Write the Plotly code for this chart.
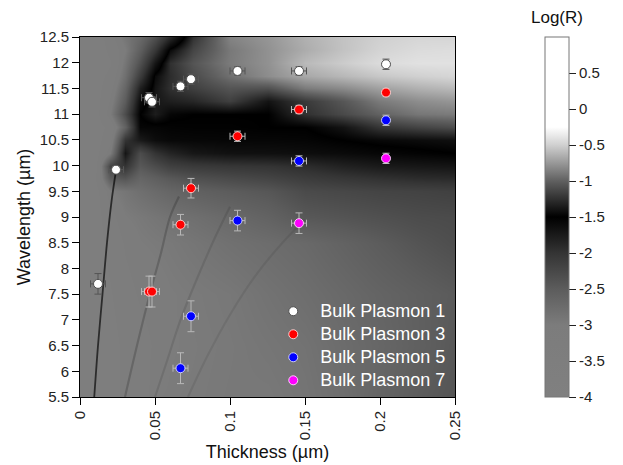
import plotly.graph_objects as go

# ---------------- data ----------------
# Measured bulk plasmon positions (thickness in µm, wavelength in µm)
bp1_x = [0.012, 0.024, 0.046, 0.048, 0.067, 0.074, 0.105, 0.146, 0.204]
bp1_y = [7.70, 9.92, 11.32, 11.24, 11.54, 11.68, 11.84, 11.84, 11.97]
bp1_ex = [0.005, 0.005, 0.005, 0.005, 0.005, 0.005, 0.005, 0.005, 0.0]
bp1_ey = [0.2, 0.06, 0.1, 0.1, 0.1, 0.1, 0.08, 0.08, 0.1]

bp3_x = [0.046, 0.048, 0.067, 0.074, 0.105, 0.146, 0.204]
bp3_y = [7.55, 7.55, 8.85, 9.56, 10.57, 11.09, 11.42]
bp3_ex = [0.005, 0.005, 0.005, 0.005, 0.005, 0.005, 0.0]
bp3_ey = [0.3, 0.3, 0.2, 0.19, 0.1, 0.08, 0.08]

bp5_x = [0.067, 0.074, 0.105, 0.146, 0.204]
bp5_y = [6.06, 7.07, 8.93, 10.09, 10.88]
bp5_ex = [0.005, 0.005, 0.005, 0.005, 0.0]
bp5_ey = [0.3, 0.3, 0.2, 0.1, 0.1]

bp7_x = [0.146, 0.204]
bp7_y = [8.88, 10.14]
bp7_ex = [0.005, 0.0]
bp7_ey = [0.2, 0.1]

# Simulated log reflectance map, coarse samples
grid_x = [0, 0.01, 0.02, 0.03, 0.04, 0.05, 0.06, 0.075, 0.1, 0.125, 0.15, 0.175, 0.2, 0.225, 0.25]
grid_y = [5.5, 6.5, 7.5, 8.5, 9.0, 9.5, 9.75, 10.0, 10.25, 10.5, 10.75, 11.0, 11.25, 11.5, 11.75, 12.0, 12.25, 12.5]
grid_z = [
    [-3.6, -3.5, -3.5, -3.3, -3.3, -3.0, -2.98, -2.97, -2.94, -2.94, -2.88, -2.78, -2.63, -2.5, -2.41],
    [-3.6, -3.5, -3.5, -3.3, -3.2, -3.1, -3.0, -2.98, -2.95, -2.9, -2.85, -2.75, -2.66, -2.56, -2.45],
    [-3.6, -3.5, -3.4, -3.2, -3.1, -3.05, -3.0, -2.97, -2.93, -2.85, -2.78, -2.7, -2.62, -2.55, -2.48],
    [-3.6, -3.5, -3.3, -3.1, -3.0, -2.97, -2.95, -2.9, -2.82, -2.76, -2.7, -2.6, -2.5, -2.4, -2.32],
    [-3.6, -3.5, -3.2, -3.0, -2.95, -2.9, -2.85, -2.8, -2.7, -2.6, -2.45, -2.4, -2.35, -2.3, -2.28],
    [-3.6, -3.5, -3.0, -2.9, -2.8, -2.72, -2.65, -2.58, -2.5, -2.43, -2.28, -2.24, -2.2, -2.18, -2.15],
    [-3.6, -3.4, -2.5, -2.4, -2.65, -2.55, -2.45, -2.35, -2.27, -2.2, -2.1, -2.03, -1.97, -1.92, -1.9],
    [-3.6, -3.5, -2.2, -2.0, -2.45, -2.3, -2.15, -2.08, -2.03, -2.0, -1.93, -1.82, -1.75, -1.72, -1.7],
    [-3.6, -3.5, -3.0, -1.7, -2.3, -2.0, -1.85, -1.72, -1.66, -1.65, -1.63, -1.6, -1.56, -1.53, -1.5],
    [-3.6, -3.5, -3.2, -2.0, -1.75, -1.62, -1.58, -1.57, -1.56, -1.56, -1.55, -1.5, -1.46, -1.44, -1.42],
    [-3.6, -3.5, -3.3, -2.6, -1.55, -1.55, -1.53, -1.52, -1.52, -1.5, -1.5, -1.4, -1.22, -1.15, -1.1],
    [-3.6, -3.5, -3.0, -2.3, -1.5, -1.35, -1.47, -1.5, -1.5, -1.5, -1.25, -1.12, -0.99, -0.9, -0.88],
    [-3.6, -3.5, -3.1, -2.5, -1.6, -1.38, -1.34, -1.3, -1.17, -1.4, -1.2, -1.05, -0.88, -0.8, -0.76],
    [-3.6, -3.5, -3.2, -2.65, -1.8, -1.4, -1.25, -1.17, -1.06, -1.08, -0.88, -0.81, -0.71, -0.64, -0.6],
    [-3.6, -3.5, -3.3, -2.8, -2.1, -1.45, -1.27, -1.11, -0.93, -0.8, -0.68, -0.61, -0.54, -0.5, -0.47],
    [-3.6, -3.6, -3.4, -2.9, -2.35, -1.7, -1.25, -1.06, -0.88, -0.78, -0.6, -0.52, -0.44, -0.41, -0.41],
    [-3.6, -3.6, -3.3, -3.0, -2.55, -2.04, -1.45, -1.14, -0.89, -0.78, -0.66, -0.56, -0.48, -0.44, -0.43],
    [-3.6, -3.6, -3.2, -2.9, -2.7, -2.35, -1.9, -1.24, -0.84, -0.76, -0.64, -0.56, -0.5, -0.47, -0.47],
]

# Thin resonance branches visible in the simulated map
branch1_x = [0.0095, 0.012, 0.015, 0.018, 0.021, 0.024]
branch1_y = [5.5, 6.5, 7.5, 8.5, 9.3, 9.9]
branch3_x = [0.030, 0.038, 0.047, 0.054, 0.060, 0.066]
branch3_y = [5.5, 6.5, 7.55, 8.3, 9.0, 9.4]
branch5_x = [0.050, 0.058, 0.067, 0.078, 0.090, 0.100]
branch5_y = [5.5, 6.2, 7.0, 7.8, 8.6, 9.2]
branch7_x = [0.072, 0.085, 0.100, 0.118, 0.135, 0.150]
branch7_y = [5.5, 6.3, 7.1, 7.9, 8.5, 8.95]

cbar_vals = [0.5, 0, -0.5, -1, -1.5, -2, -2.5, -3, -3.5, -4]
cbar_text = ["0.5", "0", "-0.5", "-1", "-1.5", "-2", "-2.5", "-3", "-3.5", "-4"]
x_ticks = [0, 0.05, 0.1, 0.15, 0.2, 0.25]
x_ticktext = ["0", "0.05", "0.1", "0.15", "0.2", "0.25"]
y_ticks = [5.5, 6, 6.5, 7, 7.5, 8, 8.5, 9, 9.5, 10, 10.5, 11, 11.5, 12, 12.5]
y_ticktext = ["5.5", "6", "6.5", "7", "7.5", "8", "8.5", "9", "9.5", "10", "10.5", "11", "11.5", "12", "12.5"]

# ---------------- figure ----------------
FONT = "Liberation Sans, Arial, sans-serif"
colorscale = [
    [0.0, "rgb(128,128,128)"],
    [0.2, "rgb(124,124,124)"],
    [0.3, "rgb(92,92,92)"],
    [0.4, "rgb(52,52,52)"],
    [0.5, "rgb(0,0,0)"],
    [0.6, "rgb(96,96,96)"],
    [0.7, "rgb(208,208,208)"],
    [0.75, "rgb(255,255,255)"],
    [1.0, "rgb(255,255,255)"],
]

fig = go.Figure()
fig.add_trace(go.Heatmap(
    x=grid_x, y=grid_y, z=grid_z, zmin=-4, zmax=1, zsmooth="best",
    colorscale=colorscale, hoverinfo="skip",
    colorbar=dict(
        x=1.24, xanchor="left", y=0, yanchor="bottom", len=1, lenmode="fraction",
        thickness=24, thicknessmode="pixels", xpad=0, ypad=0,
        outlinewidth=1, outlinecolor="#777",
        ticks="outside", ticklen=7, tickcolor="#222", tickwidth=1,
        tickvals=cbar_vals, ticktext=cbar_text,
        tickfont=dict(family=FONT, size=15, color="#222"),
    ),
))

for bx, by, col, w in [
    (branch1_x, branch1_y, "rgba(0,0,0,0.65)", 1.8),
    (branch3_x, branch3_y, "rgba(0,0,0,0.18)", 2.2),
    (branch5_x, branch5_y, "rgba(0,0,0,0.1)", 2.2),
    (branch7_x, branch7_y, "rgba(0,0,0,0.08)", 2.2),
]:
    fig.add_trace(go.Scatter(x=bx, y=by, mode="lines", line=dict(color=col, width=w, shape="spline"),
                             showlegend=False, hoverinfo="skip"))

series = [
    ("Bulk Plasmon 1", bp1_x, bp1_y, bp1_ex, bp1_ey, "white", "#505050", "#555555"),
    ("Bulk Plasmon 3", bp3_x, bp3_y, bp3_ex, bp3_ey, "#ff0000", "rgba(255,220,220,0.9)", "#b8b8b8"),
    ("Bulk Plasmon 5", bp5_x, bp5_y, bp5_ex, bp5_ey, "#0000ff", "rgba(220,220,255,0.9)", "#b8b8b8"),
    ("Bulk Plasmon 7", bp7_x, bp7_y, bp7_ex, bp7_ey, "#ff00ff", "rgba(255,220,255,0.9)", "#b8b8b8"),
]
for name, sx, sy, ex, ey, col, edge, ecol in series:
    fig.add_trace(go.Scatter(
        x=sx, y=sy, mode="markers",
        name="<span style='font-size:18px'>" + name + "</span>",
        marker=dict(size=9, color=col, line=dict(color=edge, width=1)),
        error_x=dict(type="data", array=ex, visible=True, color=ecol, thickness=1, width=3.5),
        error_y=dict(type="data", array=ey, visible=True, color=ecol, thickness=1, width=3.5),
    ))

fig.add_annotation(text="Log(R)", xref="paper", yref="paper", x=1.272, y=1.053,
                   xanchor="center", yanchor="middle", showarrow=False,
                   font=dict(family=FONT, size=17, color="#111"))

axis_common = dict(showline=True, linecolor="black", linewidth=1, mirror=True, automargin=False,
                   ticks="outside", ticklen=7, tickcolor="black", showgrid=False, zeroline=False,
                   tickfont=dict(family=FONT, size=15, color="#222"))
fig.update_xaxes(range=[0, 0.25], tickvals=x_ticks, ticktext=x_ticktext, tickangle=-90,
                 title=dict(text="Thickness (µm)", font=dict(family=FONT, size=18, color="#111"), standoff=6),
                 **axis_common)
fig.update_yaxes(range=[5.5, 12.5], tickvals=y_ticks, ticktext=y_ticktext,
                 title=dict(text="Wavelength (µm)", font=dict(family=FONT, size=18, color="#111"), standoff=4),
                 **axis_common)

fig.update_layout(
    width=623, height=465,
    margin=dict(l=80, r=168, t=37, b=68, autoexpand=False),
    paper_bgcolor="white", plot_bgcolor="white",
    font=dict(family=FONT),
    legend=dict(x=0.99, xanchor="right", y=-0.002, yanchor="bottom", bgcolor="rgba(0,0,0,0)",
                font=dict(family=FONT, size=15.4, color="white"), tracegroupgap=0, itemwidth=44),
)

fig.write_html("out.html")
